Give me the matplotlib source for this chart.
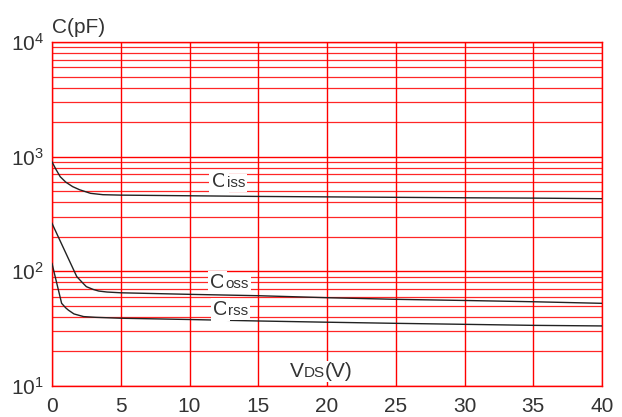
import numpy as np
import matplotlib
matplotlib.use('Agg')
import matplotlib.pyplot as plt
from matplotlib.ticker import LogLocator

plt.rcParams['font.family'] = ['Liberation Sans', 'DejaVu Sans']
plt.rcParams['mathtext.default'] = 'regular'

text_color = '#333333'
grid_color = '#ff0000'

# capacitance vs drain-source voltage
ciss_v = [0, 0.3, 0.6, 1.0, 1.5, 2.0, 2.8, 3.7, 5, 10, 15, 20, 25, 30, 35, 40]
ciss_c = [900, 770, 668, 600, 548, 515, 479, 466, 462, 456, 450, 446, 442, 438, 435, 430]

coss_v = [0, 1.8, 2.2, 2.5, 3.0, 3.4, 4, 5, 10, 15, 20, 25, 30, 35, 40]
coss_c = [262, 90, 80, 73.5, 69.5, 67.3, 66, 65, 63, 61.3, 58.9, 57, 55.7, 54.3, 52.6]

crss_v = [0, 0.7, 1.0, 1.2, 1.6, 2.3, 3.2, 5, 10, 15, 20, 25, 30, 35, 40]
crss_c = [117, 52.6, 48, 45.8, 42.5, 40.3, 39.7, 39, 38, 36.9, 36, 35.2, 34.5, 33.8, 33.4]

x_ticks = [0, 5, 10, 15, 20, 25, 30, 35, 40]

# label anchors (V, pF): pieces drawn as (text, fontsize) on a common baseline
labels = [([('C', 15), ('iss', 11)], 11.6, 543, 1.5),
          ([('C', 15), ('oss', 11)], 11.5, 71.5, 1.5),
          ([('C', 15), ('rss', 11)], 11.7, 41.6, 1.5),
          ([('V', 15), ('DS', 11), ('(V)', 15)], 17.3, 12.0, 0.5)]


def baseline_label(fig, ax, pieces, x, y, pad):
    box = dict(facecolor='white', edgecolor='none', pad=pad)
    renderer = fig.canvas.get_renderer()
    px, py = ax.transData.transform((x, y))
    for s, size in pieces:
        t = ax.annotate(s, xy=(px, py), xycoords='figure pixels', va='baseline',
                        ha='left', fontsize=size, color=text_color, bbox=box, zorder=4)
        px = t.get_window_extent(renderer).x1


fig = plt.figure(figsize=(6.22, 4.17), dpi=100)
ax = fig.add_axes([52 / 622, 31 / 417, 550 / 622, 344 / 417])

ax.set_yscale('log')
ax.set_xlim(0, 40)
ax.set_ylim(10, 1e4)
ax.set_xticks(x_ticks)
ax.yaxis.set_major_locator(LogLocator(base=10))
ax.yaxis.set_minor_locator(LogLocator(base=10, subs=np.arange(2, 10)))

ax.grid(True, which='major', color=grid_color, linewidth=1.0)
ax.grid(True, which='minor', axis='y', color=grid_color, linewidth=0.9, alpha=0.85)
ax.set_axisbelow(True)
for s in ax.spines.values():
    s.set_color(grid_color)
    s.set_linewidth(1.0)

ax.tick_params(which='both', length=0, labelsize=15, colors=text_color)
ax.tick_params(axis='x', pad=8)
ax.tick_params(axis='y', pad=6)

ax.plot(ciss_v, ciss_c, color='#222222', linewidth=1.0, zorder=3)
ax.plot(coss_v, coss_c, color='#222222', linewidth=1.0, zorder=3)
ax.plot(crss_v, crss_c, color='#222222', linewidth=1.0, zorder=3)

fig.canvas.draw()
for pieces, x, y, pad in labels:
    baseline_label(fig, ax, pieces, x, y, pad)

ax.annotate('C(pF)', xy=(0, 1), xycoords='axes fraction', xytext=(0, 6.5),
            textcoords='offset points', fontsize=15, color=text_color,
            va='baseline', ha='left')

plt.savefig('out.png', dpi=100)
